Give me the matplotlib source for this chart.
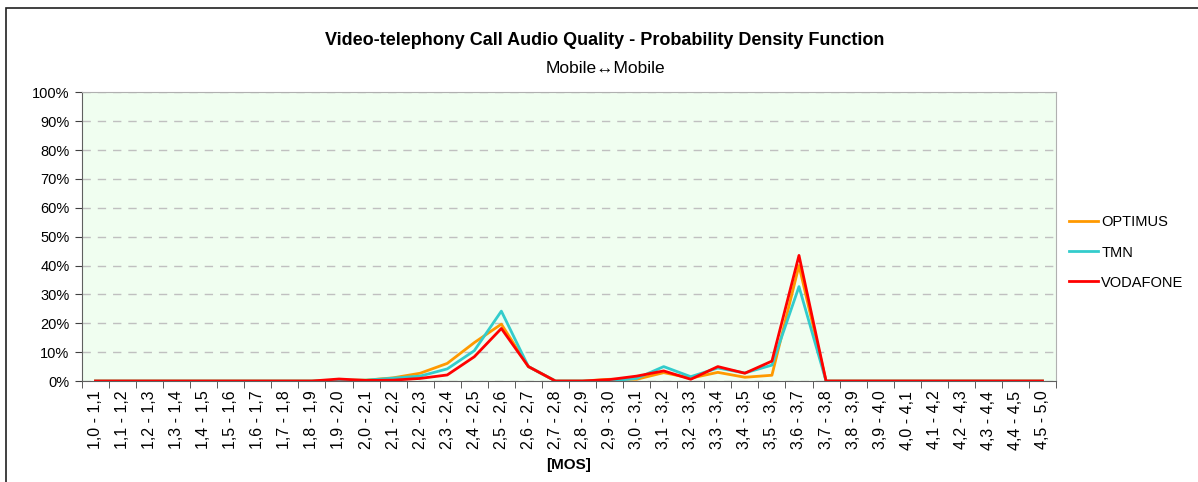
import numpy as np
import matplotlib.pyplot as plt
from matplotlib.patches import Rectangle

plt.rcParams['font.family'] = ['Liberation Sans', 'DejaVu Sans']

lo = [1.0, 1.1, 1.2, 1.3, 1.4, 1.5, 1.6, 1.7, 1.8, 1.9, 2.0, 2.1, 2.2, 2.3, 2.4, 2.5, 2.6, 2.7,
      2.8, 2.9, 3.0, 3.1, 3.2, 3.3, 3.4, 3.5, 3.6, 3.7, 3.8, 3.9, 4.0, 4.1, 4.2, 4.3, 4.4, 4.5]
hi = lo[1:] + [5.0]
categories = ["{:.1f} - {:.1f}".format(a, b).replace('.', ',') for a, b in zip(lo, hi)]

# valores em %
optimus = [0, 0, 0, 0, 0, 0, 0, 0, 0, 0.3, 0.3, 1.1, 2.7, 6.1, 13.3, 19.7, 5.0, 0,
           0, 0.6, 0.6, 2.9, 1.0, 3.0, 1.3, 2.0, 40.0, 0, 0, 0, 0, 0, 0, 0, 0, 0]
tmn = [0, 0, 0, 0, 0, 0, 0, 0, 0, 0.2, 0.3, 1.0, 1.7, 4.2, 10.5, 24.2, 5.0, 0,
       0, 0, 0.9, 5.0, 1.5, 4.5, 2.8, 5.5, 32.7, 0, 0, 0, 0, 0, 0, 0, 0, 0]
vodafone = [0, 0, 0, 0, 0, 0, 0, 0, 0, 0.7, 0.2, 0.3, 0.9, 2.1, 8.4, 18.2, 5.0, 0,
            0, 0.5, 1.7, 3.5, 0.6, 5.0, 2.7, 6.9, 43.5, 0, 0, 0, 0, 0, 0, 0, 0, 0]

fig = plt.figure(figsize=(11.98, 4.82), dpi=100)
ax = fig.add_axes([0.0684, 0.2095, 0.8131, 0.599])
ax.set_facecolor('#f0fef0')

x = np.arange(len(categories))
ax.plot(x, optimus, color='#ff9900', lw=2, label='OPTIMUS')
ax.plot(x, tmn, color='#33cccc', lw=2, label='TMN')
ax.plot(x, vodafone, color='#ff0000', lw=2, label='VODAFONE')

ax.set_xlim(-0.5, len(categories) - 0.5)
ax.set_ylim(0, 100)
ax.set_yticks(range(0, 101, 10))
ax.set_yticklabels(["{}%".format(v) for v in range(0, 101, 10)], fontsize=10.5)
ax.yaxis.grid(True, linestyle=(0, (6, 5)), color='#c0c0c0', lw=1)
ax.set_axisbelow(True)

ax.set_xticks(x)
ax.set_xticklabels(categories, rotation=90, fontsize=11.5)
ax.tick_params(axis='x', which='major', length=0, pad=7)
ax.set_xticks(np.arange(-0.5, len(categories), 1), minor=True)
ax.tick_params(axis='x', which='minor', length=5, direction='out', color='#404040')
ax.tick_params(axis='y', length=5, direction='out', color='#404040', pad=4)
ax.set_xlabel('[MOS]', fontsize=11, fontweight='bold', labelpad=6)

for s in ['left', 'bottom']:
    ax.spines[s].set_color('#606060')
for s in ['top', 'right']:
    ax.spines[s].set_color('#b0b0b0')

fig.text(0.505, 0.916, 'Video-telephony Call Audio Quality - Probability Density Function',
         ha='center', va='center', fontsize=13, fontweight='bold')
fig.text(0.505, 0.857, 'Mobile\u2194Mobile', ha='center', va='center', fontsize=12.5)

ax.legend(loc='center left', bbox_to_anchor=(1.0, 0.445), frameon=False, fontsize=10.5,
          handlelength=2.0, handletextpad=0.2, labelspacing=1.1)

fig.patches.append(Rectangle((6 / 1198, -0.1), 1.2, 1 - 8 / 482 + 0.1, transform=fig.transFigure,
                             fill=False, edgecolor='#202020', lw=1.2))

fig.savefig('out.png', dpi=100)
